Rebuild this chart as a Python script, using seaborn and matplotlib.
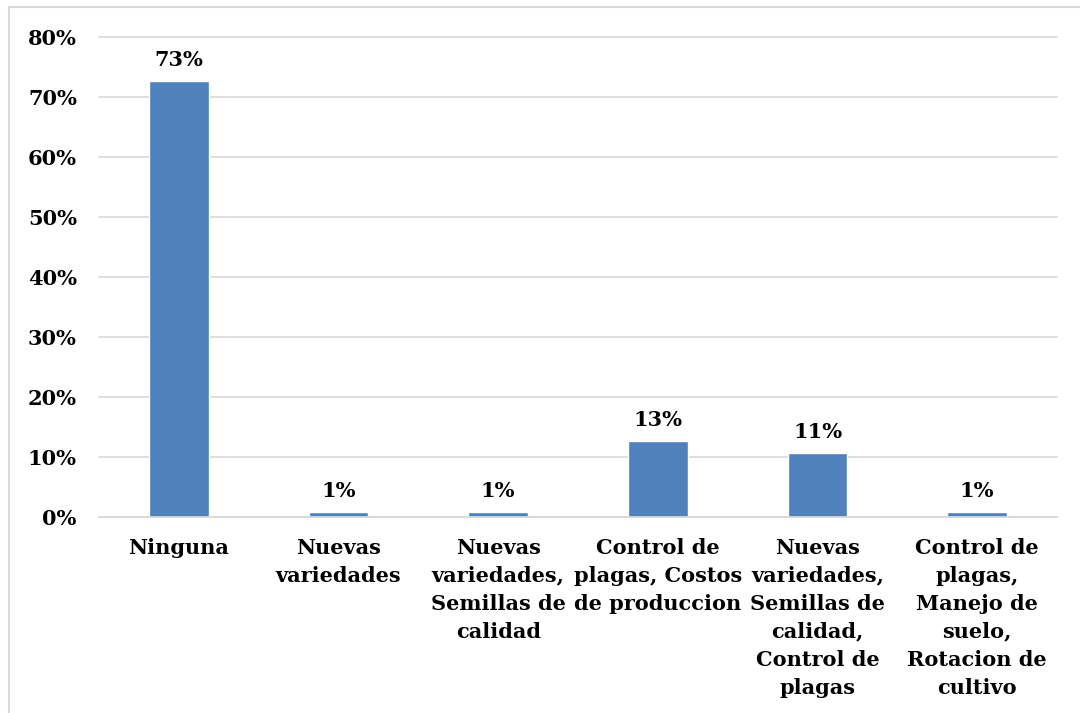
import matplotlib
matplotlib.use("Agg")
import matplotlib.pyplot as plt
import seaborn as sns
import pandas as pd
from matplotlib.patches import Rectangle
from matplotlib.ticker import MultipleLocator, FixedLocator

# Datos del gráfico
categorias = [
    "Ninguna",
    "Nuevas\nvariedades",
    "Nuevas\nvariedades,\nSemillas de\ncalidad",
    "Control de\nplagas, Costos\nde produccion",
    "Nuevas\nvariedades,\nSemillas de\ncalidad,\nControl de\nplagas",
    "Control de\nplagas,\nManejo de\nsuelo,\nRotacion de\ncultivo",
]
porcentajes = [0.727, 0.008, 0.008, 0.127, 0.107, 0.008]

df = pd.DataFrame({"Categoria": categorias, "Porcentaje": porcentajes})

sns.set_style("white")
plt.rcParams["font.family"] = ["DejaVu Serif"]
plt.rcParams["font.weight"] = "bold"
plt.rcParams["text.color"] = "black"

fig = plt.figure(figsize=(10.8, 7.13), dpi=100)
ax = fig.add_axes([99 / 1080, 1 - 517 / 713, (1057 - 99) / 1080, (517 - 37) / 713])

sns.barplot(data=df, x="Categoria", y="Porcentaje", color="#4F81BD",
            width=0.375, saturation=1, ax=ax)

# Etiquetas de valores
ax.bar_label(ax.containers[0], labels=[f"{v:.0%}" for v in porcentajes],
             padding=8, fontsize=15, fontweight="bold", color="black")

ax.set_ylim(0, 0.8)
ax.set_xlim(-0.5, len(categorias) - 0.5)
ax.yaxis.set_major_locator(MultipleLocator(0.1))
ax.set_yticklabels([f"{t:.0%}" for t in ax.get_yticks()])
ax.grid(axis="y", color="#D9D9D9", linewidth=1.2)
for gl in ax.get_ygridlines():
    gl.set_clip_on(False)
ax.set_axisbelow(True)

for s in ["top", "right", "left"]:
    ax.spines[s].set_visible(False)
ax.spines["bottom"].set_color("#D9D9D9")
ax.spines["bottom"].set_linewidth(1.2)

ax.xaxis.set_minor_locator(FixedLocator([i - 0.5 for i in range(len(categorias) + 1)]))
ax.tick_params(axis="x", which="minor", length=6, color="#D9D9D9", width=1.2)
ax.tick_params(axis="x", which="major", length=0, pad=15, labelcolor="black")
ax.tick_params(axis="y", length=0, pad=16, labelcolor="black")
for lbl in ax.get_xticklabels():
    lbl.set_fontsize(15)
    lbl.set_fontweight("bold")
    lbl.set_linespacing(1.5)
    lbl.set_verticalalignment("top")
for lbl in ax.get_yticklabels():
    lbl.set_fontsize(15)
    lbl.set_fontweight("bold")

ax.set_xlabel("")
ax.set_ylabel("")

# Borde del área del gráfico
fig.patches.append(Rectangle((9 / 1080, -0.1), 1.2, 1 - 7 / 713 + 0.1,
                             transform=fig.transFigure, fill=False,
                             edgecolor="#D9D9D9", linewidth=1.5))

fig.savefig("out.png", dpi=100)
